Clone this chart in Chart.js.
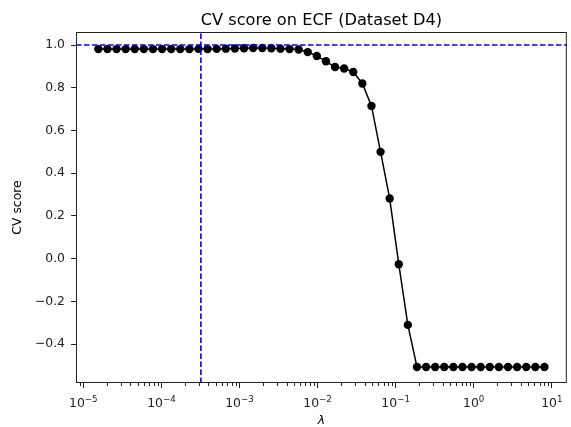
<!DOCTYPE html>
<html>
<head>
<meta charset="utf-8">
<script src="https://cdn.jsdelivr.net/npm/chart.js@4.4.1/dist/chart.umd.min.js"></script>
<style>
  body { margin: 0; background: #fff; }
  canvas { display: block; }
</style>
</head>
<body>
<canvas id="cvChart" width="571" height="427"></canvas>
<script>
// lambda grid (x values)
const lambdas = [
  1.556e-5, 2.035e-5, 2.662e-5, 3.482e-5, 4.554e-5, 5.957e-5, 7.791e-5, 1.019e-4, 1.333e-4, 1.743e-4,
  2.280e-4, 2.982e-4, 3.901e-4, 5.102e-4, 6.674e-4, 8.730e-4, 1.142e-3, 1.494e-3, 1.954e-3, 2.556e-3,
  3.342e-3, 4.371e-3, 5.718e-3, 7.478e-3, 9.781e-3, 1.279e-2, 1.673e-2, 2.188e-2, 2.862e-2, 3.744e-2,
  4.898e-2, 6.406e-2, 8.379e-2, 0.1096, 0.1433, 0.1875, 0.2452, 0.3207, 0.4195, 0.5487,
  0.7178, 0.9389, 1.228, 1.606, 2.101, 2.748, 3.594, 4.701, 6.150, 8.044
];
// CV score per lambda
const cvScores = [
  0.981, 0.981, 0.981, 0.981, 0.981, 0.981, 0.981, 0.981, 0.981, 0.981,
  0.981, 0.982, 0.981, 0.982, 0.983, 0.984, 0.985, 0.986, 0.986, 0.985,
  0.983, 0.981, 0.979, 0.967, 0.949, 0.924, 0.897, 0.890, 0.874, 0.820,
  0.715, 0.500, 0.282, -0.026, -0.310, -0.507, -0.507, -0.507, -0.507, -0.507,
  -0.507, -0.507, -0.507, -0.507, -0.507, -0.507, -0.507, -0.507, -0.507, -0.507
];
const bestLambda = 3.2e-4;
const refScore = 1.0;
const xDecades = [1e-5, 1e-4, 1e-3, 1e-2, 1e-1, 1e0, 1e1];
const yTicks = [-0.4, -0.2, 0.0, 0.2, 0.4, 0.6, 0.8, 1.0];
const xMin = 8.05e-6, xMax = 15.56;
const yMin = -0.582, yMax = 1.061;

const FONT = 'DejaVu Sans';
const INK = '#222';
const TICK_PX = 12.4;

// frame, title, minor log ticks and 10^n labels, drawn like matplotlib
const framePlugin = {
  id: 'frame',
  afterDraw(chart) {
    const { ctx, chartArea: a, scales } = chart;
    ctx.save();
    ctx.strokeStyle = INK;
    ctx.lineWidth = 1;
    ctx.strokeRect(a.left + 0.5, a.top + 0.5, a.right - a.left - 1, a.bottom - a.top - 1);

    const xs = scales.x;
    for (let d = -6; d <= 1; d++) {
      for (let m = 2; m <= 9; m++) {
        const v = m * Math.pow(10, d);
        if (v < xMin || v > xMax) continue;
        const px = Math.round(xs.getPixelForValue(v)) + 0.5;
        ctx.beginPath();
        ctx.moveTo(px, a.bottom);
        ctx.lineTo(px, a.bottom + 3);
        ctx.stroke();
      }
    }

    // decade labels: "10" with a raised exponent
    ctx.fillStyle = INK;
    ctx.textBaseline = 'alphabetic';
    ctx.textAlign = 'left';
    const baseFont = TICK_PX + 'px "' + FONT + '"';
    const expFont = (TICK_PX * 0.7).toFixed(1) + 'px "' + FONT + '"';
    xDecades.forEach(v => {
      const e = String(Math.round(Math.log10(v))).replace('-', '\u2212');
      ctx.font = baseFont;
      const wb = ctx.measureText('10').width;
      ctx.font = expFont;
      const we = ctx.measureText(e).width;
      const x0 = xs.getPixelForValue(v) - (wb + we) / 2;
      const base = a.bottom + 24;
      ctx.font = baseFont;
      ctx.fillText('10', x0, base);
      ctx.font = expFont;
      ctx.fillText(e, x0 + wb, base - 5);
    });

    // title centred over the axes
    ctx.font = '16.2px "' + FONT + '"';
    ctx.fillStyle = '#000';
    ctx.textAlign = 'center';
    ctx.fillText('CV score on ECF (Dataset D4)', (a.left + a.right) / 2, a.top - 7.4);
    ctx.restore();
  }
};

const ctx = document.getElementById('cvChart').getContext('2d');
new Chart(ctx, {
  type: 'line',
  data: {
    datasets: [
      {
        label: 'ref',
        data: [{ x: xMin, y: refScore }, { x: xMax, y: refScore }],
        borderColor: '#0000ff',
        borderWidth: 1.6,
        borderDash: [5.5, 2.5],
        pointRadius: 0,
        order: 0
      },
      {
        label: 'best',
        data: [{ x: bestLambda, y: yMin }, { x: bestLambda, y: yMax }],
        borderColor: '#0000ff',
        borderWidth: 1.6,
        borderDash: [5.5, 2.5],
        pointRadius: 0,
        order: 0
      },
      {
        label: 'CV score',
        data: lambdas.map((l, i) => ({ x: l, y: cvScores[i] })),
        borderColor: '#000',
        backgroundColor: '#000',
        borderWidth: 1.5,
        pointRadius: 4.2,
        pointBorderWidth: 0,
        tension: 0,
        order: 1
      }
    ]
  },
  options: {
    responsive: false,
    devicePixelRatio: 1,
    animation: false,
    layout: { padding: { left: 0, right: 4, top: 32, bottom: 0 } },
    plugins: {
      legend: { display: false },
      tooltip: { enabled: false },
      title: { display: false }
    },
    scales: {
      x: {
        type: 'logarithmic',
        min: xMin,
        max: xMax,
        afterBuildTicks: s => { s.ticks = xDecades.map(v => ({ value: v })); },
        afterFit: s => { s.height = 44; },
        ticks: {
          autoSkip: false,
          maxRotation: 0,
          callback: () => ''
        },
        grid: { display: true, drawOnChartArea: false, drawTicks: true, tickLength: 5, color: INK },
        border: { display: false },
        title: {
          display: true,
          text: 'λ',
          color: '#000',
          font: { family: FONT, size: TICK_PX, style: 'italic' },
          padding: { top: 0, bottom: -1 }
        }
      },
      y: {
        min: yMin,
        max: yMax,
        afterBuildTicks: s => { s.ticks = yTicks.map(v => ({ value: v })); },
        afterFit: s => { s.width = 76; },
        ticks: {
          color: INK,
          font: { family: FONT, size: TICK_PX },
          padding: 6,
          callback: v => v.toFixed(1).replace('-', '\u2212')
        },
        grid: { display: true, drawOnChartArea: false, drawTicks: true, tickLength: 5, color: INK },
        border: { display: false },
        title: {
          display: true,
          text: 'CV score',
          color: '#000',
          font: { family: FONT, size: TICK_PX },
          padding: { top: 10.5, bottom: 0 }
        }
      }
    }
  },
  plugins: [framePlugin]
});
</script>
</body>
</html>
